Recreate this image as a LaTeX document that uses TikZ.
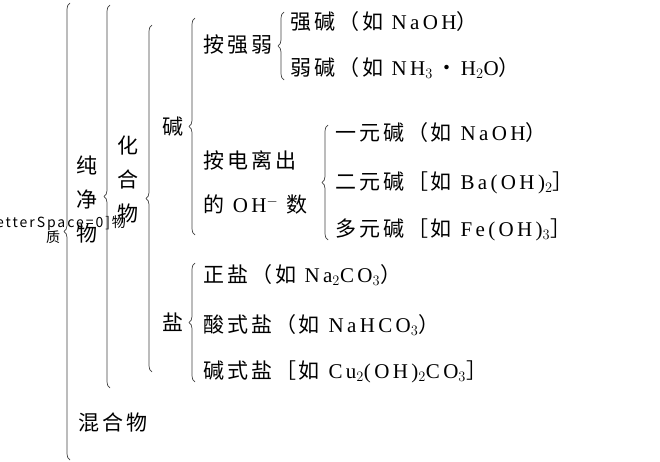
\documentclass[tikz,border=0pt]{standalone}
\usepackage{fontspec}
\setmainfont[LetterSpace=16]{Liberation Serif}
\newfontfamily\cjk[LetterSpace=14]{Noto Sans CJK SC}
\newcommand{\C}[1]{{\cjk #1}}
\usetikzlibrary{decorations.pathreplacing}
\begin{document}
\begin{tikzpicture}[x=1pt,y=-1pt,
  t/.style={anchor=west,inner sep=0pt,font=\fontsize{21}{23}\selectfont},
  br/.style={draw=black!75,line width=0.7pt,decorate,decoration={brace,amplitude=6pt}}]
\useasboundingbox (0,0) rectangle (660,462);
\node[anchor=center,inner sep=0pt,font=\fontsize{14}{15}\selectfont,align=center] (wz) at (53,230) {{\cjk[LetterSpace=0]物}\\{\cjk 质}};
\draw[br] (70,460) -- (70,3);
\node[t,align=center,anchor=center] (cjw) at (87,200) {\C{纯}\\[11pt]\C{净}\\[11pt]\C{物}};
\draw[br] (110,388) -- (110,5);
\node[t,align=center,anchor=center] (hhw) at (128,180) {\C{化}\\[11pt]\C{合}\\[11pt]\C{物}};
\draw[br] (152,372) -- (152,25);
\node[t] (jian) at (162,127) {\C{碱}};
\draw[br] (195,235) -- (195,18);
\node[t] (aqr) at (203,45) {\C{按强弱}};
\draw[br] (284,80) -- (284,12);
\node[t] (qj) at (290,22) {\C{强碱（如} NaOH\C{）}};
\node[t] (rj) at (290,68) {\C{弱碱（如} NH$_3$\,\C{·}\,H$_2$O\C{）}};
\node[t] (adl) at (203,160) {\C{按电离出}};
\node[t] (doh) at (203,205) {\C{的} OH$^-$ \C{数}};
\draw[br] (328,240) -- (328,125);
\node[t] (yy) at (335,133) {\C{一元碱（如} NaOH\C{）}};
\node[t] (ey) at (335,183) {\C{二元碱［如} Ba(OH)$_2$\C{］}};
\node[t] (dy) at (335,230) {\C{多元碱［如} Fe(OH)$_3$\C{］}};
\node[t] (yan) at (162,322) {\C{盐}};
\draw[br] (195,382) -- (195,263);
\node[t] (zy) at (203,275) {\C{正盐（如} Na$_2$CO$_3$\C{）}};
\node[t] (sy) at (203,325) {\C{酸式盐（如} NaHCO$_3$\C{）}};
\node[t] (jy) at (203,372) {\C{碱式盐［如} Cu$_2$(OH)$_2$CO$_3$\C{］}};
\node[t] (hhw2) at (78,423) {\C{混合物}};
\end{tikzpicture}
\end{document}
